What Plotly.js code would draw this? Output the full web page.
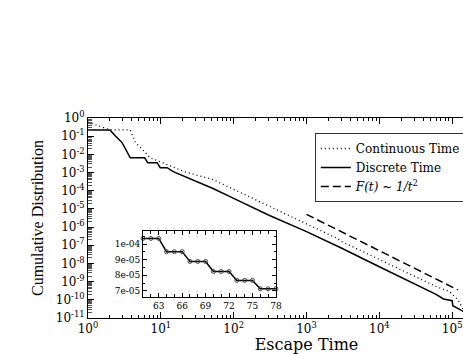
<!DOCTYPE html>
<html>
<head>
<meta charset="utf-8">
<script src="https://cdn.plot.ly/plotly-3.0.1.min.js"></script>
<style>
  html, body { margin: 0; padding: 0; overflow: hidden; background: #fff; }
</style>
</head>
<body>
<div id="chart"></div>
<script>
"use strict";

// main curves
var contT = [1, 2, 3.8, 4.5, 6, 7.1, 10.5, 21, 52, 100, 300, 820, 1000, 2600, 3000, 10000, 30000, 60000, 93000, 120000, 141000];
var contF = [0.6, 0.22, 0.22, 0.043, 0.0138, 0.0065, 0.0035, 0.00112, 0.00041, 0.000117, 1.41e-5, 2.1e-6, 1.41e-6, 2.45e-7, 1.66e-7, 1.66e-8, 2.0e-9, 5.4e-10, 2.75e-10, 1.0e-10, 3.2e-11];

var discT = [1, 2, 2.4, 2.95, 3.8, 6, 6.6, 8.9, 9.8, 12.2, 14.8, 20, 30, 52, 100, 300, 1000, 3000, 10000, 30000, 60000, 76000, 85000, 100000, 102000, 120000, 138000, 158000];
var discF = [0.22, 0.22, 0.1, 0.043, 0.0065, 0.0065, 0.0035, 0.0035, 0.00186, 0.00186, 0.00112, 0.00068, 0.00034, 0.000132, 3.8e-5, 4.6e-6, 5.6e-7, 7.1e-8, 6.6e-9, 7.9e-10, 2.0e-10, 1.12e-10, 1.0e-10, 8.9e-11, 4.7e-11, 3.5e-11, 2.5e-11, 1.6e-11];

var powT = [1000, 120000];
var powF = [5e-6, 3.5e-10];

// inset, zoom on t = 61..78
var insetT = [61, 62, 63, 64, 65, 66, 67, 68, 69, 70, 71, 72, 73, 74, 75, 76, 77, 78];
var insetF = [1.037e-4, 1.037e-4, 1.037e-4, 9.52e-5, 9.52e-5, 9.52e-5, 8.89e-5, 8.89e-5, 8.89e-5,
              8.24e-5, 8.24e-5, 8.24e-5, 7.67e-5, 7.67e-5, 7.67e-5, 7.13e-5, 7.13e-5, 7.13e-5];

var xTickVals = [1, 10, 100, 1000, 10000, 100000, 1000000];
var xTickText = ["10<sup>0</sup>", "10<sup>1</sup>", "10<sup>2</sup>", "10<sup>3</sup>", "10<sup>4</sup>", "10<sup>5</sup>", "10<sup>6</sup>"];
var yTickVals = [1, 1e-1, 1e-2, 1e-3, 1e-4, 1e-5, 1e-6, 1e-7, 1e-8, 1e-9, 1e-10, 1e-11];
var yTickText = ["10<sup>0</sup>", "10<sup>-1</sup>", "10<sup>-2</sup>", "10<sup>-3</sup>", "10<sup>-4</sup>", "10<sup>-5</sup>",
                 "10<sup>-6</sup>", "10<sup>-7</sup>", "10<sup>-8</sup>", "10<sup>-9</sup>", "10<sup>-10</sup>", "10<sup>-11</sup>"];
var insetYVals = [7e-5, 8e-5, 9e-5, 1e-4];
var insetYText = ["7e-05", "8e-05", "9e-05", "1e-04"];
var insetXVals = [63, 66, 69, 72, 75, 78];

var serif = "DejaVu Serif, serif";

var traces = [
    {
        x: contT, y: contF, type: "scatter", mode: "lines", name: "Continuous Time",
        line: { color: "black", width: 1.3, dash: "1px,3px" }
    },
    {
        x: discT, y: discF, type: "scatter", mode: "lines", name: "Discrete Time",
        line: { color: "black", width: 1.5 }
    },
    {
        x: powT, y: powF, type: "scatter", mode: "lines", name: "<i>F(t) ~ 1/t</i><sup>2</sup>",
        line: { color: "black", width: 1.5, dash: "8px,4px" }
    },
    {
        x: insetT, y: insetF, type: "scatter", mode: "lines+markers", showlegend: false,
        xaxis: "x2", yaxis: "y2",
        line: { color: "black", width: 1.5 },
        marker: { symbol: "circle-open", size: 4, color: "#444", line: { width: 1 } },
        cliponaxis: false
    }
];

// the figure is wider than the window on purpose: the original is cut at its right edge
var layout = {
    width: 560,
    height: 354,
    margin: { l: 88, r: 35, t: 118, b: 36 },
    paper_bgcolor: "white",
    plot_bgcolor: "white",
    font: { family: serif, color: "black", size: 12 },
    showlegend: true,
    legend: {
        x: 0.519, y: 0.925, xanchor: "left", yanchor: "top",
        bgcolor: "white", bordercolor: "#333", borderwidth: 1,
        font: { family: serif, size: 12 },
        tracegroupgap: 0
    },
    xaxis: {
        type: "log", range: [0, 6],
        showline: true, linecolor: "black", linewidth: 1, mirror: "ticks",
        showgrid: false, zeroline: false,
        ticks: "inside", ticklen: 6, tickcolor: "black",
        tickmode: "array", tickvals: xTickVals, ticktext: xTickText,
        tickfont: { family: serif, size: 12 },
        minor: { ticks: "inside", ticklen: 3, tickcolor: "black", dtick: "D1", showgrid: false },
        title: { text: "Escape Time", font: { family: serif, size: 16 }, standoff: 2 }
    },
    yaxis: {
        type: "log", range: [-11, 0],
        showline: true, linecolor: "black", linewidth: 1, mirror: "ticks",
        showgrid: false, zeroline: false,
        ticks: "inside", ticklen: 6, tickcolor: "black",
        tickmode: "array", tickvals: yTickVals, ticktext: yTickText,
        tickfont: { family: serif, size: 12 },
        minor: { ticks: "inside", ticklen: 4, tickcolor: "#555", dtick: "D1", showgrid: false },
        title: { text: "Cumulative Distribution", font: { family: "Liberation Serif, serif", size: 16 }, standoff: 8 }
    },
    xaxis2: {
        domain: [0.126, 0.43], anchor: "y2", range: [61, 78],
        showline: true, linecolor: "black", linewidth: 1, mirror: "ticks",
        showgrid: false, zeroline: false,
        ticks: "inside", ticklen: 4, tickcolor: "black",
        tickmode: "array", tickvals: insetXVals,
        tickfont: { family: serif, size: 9 },
        minor: { ticks: "inside", ticklen: 3, tickcolor: "black", dtick: 1, showgrid: false }
    },
    yaxis2: {
        domain: [0.105, 0.435], anchor: "x2", range: [6.6e-5, 1.085e-4],
        showline: true, linecolor: "black", linewidth: 1, mirror: "ticks",
        showgrid: false, zeroline: false,
        ticks: "inside", ticklen: 4, tickcolor: "black",
        tickmode: "array", tickvals: insetYVals, ticktext: insetYText,
        tickfont: { family: serif, size: 9 },
        minor: { ticks: "inside", ticklen: 2, tickcolor: "black", dtick: 5e-6, showgrid: false }
    }
};

Plotly.newPlot("chart", traces, layout, { displayModeBar: false, staticPlot: true });
</script>
</body>
</html>
